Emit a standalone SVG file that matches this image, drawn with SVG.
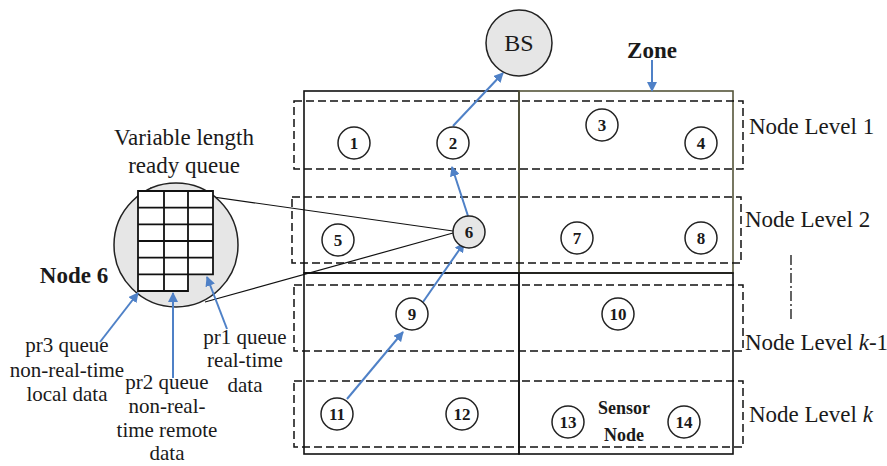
<svg xmlns="http://www.w3.org/2000/svg" width="887" height="466" viewBox="0 0 887 466">
<defs>
<marker id="ah" viewBox="0 0 10 10" refX="9" refY="5" markerWidth="10" markerHeight="10" markerUnits="userSpaceOnUse" orient="auto">
<path d="M0,0 L10,5 L0,10 z" fill="#4f81c7"/>
</marker>
</defs>
<style>
text{font-family:"Liberation Serif","Times New Roman",serif;fill:#1a1a1a}
.lbl{font-size:23px}
.sm{font-size:21px;text-anchor:middle}
.num{font-size:17px;font-weight:bold;text-anchor:middle}
.b{font-weight:bold}
.node{fill:#fff;stroke:#222;stroke-width:1.5}
.gray{fill:#e6e6e6}
.dash{fill:none;stroke:#111;stroke-width:1.5;stroke-dasharray:8 4}
.solid{fill:none;stroke:#111;stroke-width:1.6}
.olive{fill:none;stroke:#55553a;stroke-width:1.6}
.conn{fill:none;stroke:#4f81c7;stroke-width:2;marker-end:url(#ah)}
.thin{fill:none;stroke:#111;stroke-width:1.2}
.grid{fill:#fff;stroke:#111;stroke-width:1.8}
</style>
<rect width="887" height="466" fill="#fff"/>

<g id="zones">
<rect class="solid" x="304" y="91" width="215" height="182"/>
<rect class="olive" x="519" y="91" width="214" height="182"/>
<rect class="solid" x="304" y="273" width="215" height="181"/>
<rect class="solid" x="519" y="273" width="214" height="181"/>
<rect class="dash" x="294" y="101" width="449" height="68"/>
<rect class="dash" x="292" y="197" width="449" height="66"/>
<rect class="dash" x="294" y="285" width="449" height="66"/>
<rect class="dash" x="294" y="381" width="449" height="66"/>
<line x1="791" y1="255" x2="791" y2="322" stroke="#111" stroke-width="1.3" stroke-dasharray="10 3 2 3"/>
</g>

<g id="labels">
<text class="b" x="652" y="58" font-size="23" text-anchor="middle">Zone</text>
<text class="lbl" x="749" y="134">Node Level 1</text>
<text class="lbl" x="745" y="227">Node Level 2</text>
<text class="lbl" x="745" y="350">Node Level <tspan font-style="italic">k</tspan>-1</text>
<text class="lbl" x="749" y="422">Node Level <tspan font-style="italic">k</tspan></text>
<text class="b" x="624" y="414" font-size="18" text-anchor="middle">Sensor</text>
<text class="b" x="624" y="441" font-size="18" text-anchor="middle">Node</text>
</g>

<g id="zoomlines">
<line class="thin" x1="150" y1="188" x2="453" y2="231"/>
<line class="thin" x1="205" y1="302" x2="453" y2="233"/>
</g>

<g id="queue-node">
<circle cx="176" cy="245" r="62" fill="#e6e6e6" stroke="#222" stroke-width="1.5"/>
<path class="grid" d="M138,191 H213 V274.3 H188 V291 H138 Z"/>
<path fill="none" stroke="#111" stroke-width="1.8" d="M164,191 V291 M188,191 V274.3 M138,207.7 H213 M138,224.3 H213 M138,241 H213 M138,257.7 H213 M138,274.3 H188"/>
<text x="184" y="145" font-size="23" text-anchor="middle">Variable length</text>
<text x="184" y="173" font-size="23" text-anchor="middle">ready queue</text>
<text class="b" x="74" y="283" font-size="23" text-anchor="middle">Node 6</text>
</g>

<g id="queue-labels">
<text class="sm" x="67" y="352">pr3 queue</text>
<text class="sm" x="67" y="377">non-real-time</text>
<text class="sm" x="67" y="401">local data</text>
<text class="sm" x="167" y="389">pr2 queue</text>
<text class="sm" x="167" y="413">non-real-</text>
<text class="sm" x="167" y="437">time remote</text>
<text class="sm" x="167" y="460">data</text>
<text class="sm" x="245" y="344">pr1 queue</text>
<text class="sm" x="245" y="367">real-time</text>
<text class="sm" x="245" y="392">data</text>
</g>

<g id="connectors">
<line class="conn" x1="453" y1="126" x2="503" y2="73"/>
<line class="conn" x1="468" y1="216" x2="452" y2="167"/>
<line class="conn" x1="423" y1="302" x2="464" y2="243"/>
<line class="conn" x1="347" y1="399" x2="403" y2="332"/>
<line class="conn" x1="652" y1="60" x2="652" y2="91"/>
<line class="conn" x1="100" y1="342" x2="138" y2="293"/>
<line class="conn" x1="173" y1="378" x2="173" y2="293"/>
<line class="conn" x1="227" y1="329" x2="207" y2="277"/>
</g>

<g id="BS"><circle class="node gray" cx="519" cy="43" r="33"/><text x="519" y="51" font-size="24" text-anchor="middle">BS</text></g>
<g id="n1"><circle class="node" cx="354" cy="143" r="16"/><text class="num" x="354" y="149">1</text></g>
<g id="n2"><circle class="node" cx="453" cy="143" r="16"/><text class="num" x="453" y="149">2</text></g>
<g id="n3"><circle class="node" cx="602" cy="125" r="16"/><text class="num" x="602" y="131">3</text></g>
<g id="n4"><circle class="node" cx="701" cy="143" r="16"/><text class="num" x="701" y="149">4</text></g>
<g id="n5"><circle class="node" cx="338" cy="240" r="16"/><text class="num" x="338" y="246">5</text></g>
<g id="n6"><circle class="node gray" cx="469" cy="232" r="16"/><text class="num" x="469" y="238">6</text></g>
<g id="n7"><circle class="node" cx="577" cy="238" r="16"/><text class="num" x="577" y="244">7</text></g>
<g id="n8"><circle class="node" cx="701" cy="238" r="16"/><text class="num" x="701" y="244">8</text></g>
<g id="n9"><circle class="node" cx="412" cy="314" r="16"/><text class="num" x="412" y="320">9</text></g>
<g id="n10"><circle class="node" cx="618" cy="314" r="16"/><text class="num" x="618" y="320">10</text></g>
<g id="n11"><circle class="node" cx="337" cy="414" r="16"/><text class="num" x="337" y="420">11</text></g>
<g id="n12"><circle class="node" cx="462" cy="414" r="16"/><text class="num" x="462" y="420">12</text></g>
<g id="n13"><circle class="node" cx="568" cy="422" r="16"/><text class="num" x="568" y="428">13</text></g>
<g id="n14"><circle class="node" cx="684" cy="422" r="16"/><text class="num" x="684" y="428">14</text></g>
</svg>
